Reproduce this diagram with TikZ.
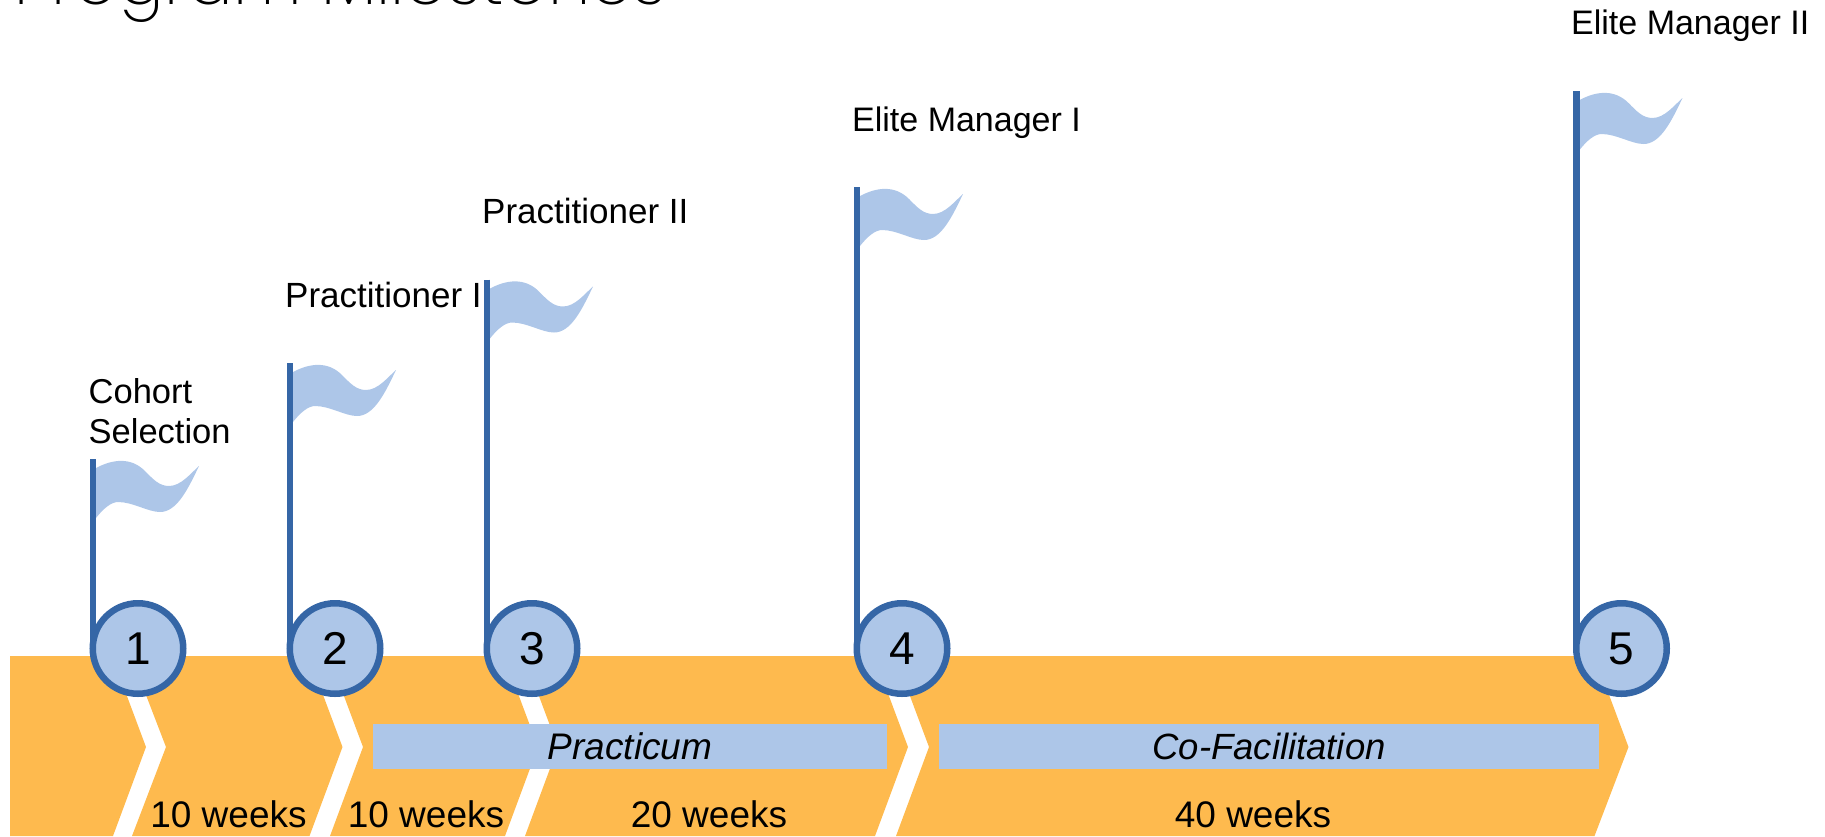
\documentclass[tikz,border=0pt]{standalone}
\usepackage{fontspec}
\setmainfont{Liberation Sans}
\newfontfamily\titlefont{Poppins ExtraLight}
\definecolor{ribbon}{HTML}{FEBA4E}
\definecolor{paleblue}{HTML}{ADC6E8}
\definecolor{darkblue}{HTML}{3566A6}
\tikzset{
  band/.style={fill=ribbon,draw=none},
  bar/.style={fill=paleblue,draw=none,inner sep=0pt,outer sep=0pt,minimum height=45pt,font=\fontsize{37}{40}\selectfont\itshape},
  stone/.style={circle,draw=darkblue,line width=6.5pt,fill=paleblue,minimum size=90.5pt,inner sep=0pt,outer sep=0pt,font=\fontsize{46}{50}\selectfont},
  pole/.style={draw=darkblue,line width=6.2pt},
  flag/.style={fill=paleblue,draw=none},
  label/.style={anchor=base west,inner sep=0pt,font=\fontsize{35}{40}\selectfont,align=left},
  elite/.style={label,font=\fontsize{34}{40}\selectfont},
  weeks/.style={anchor=base,inner sep=0pt,font=\fontsize{37}{40}\selectfont},
}
\newcommand{\flagat}[1]{%
  \fill[flag,shift={(#1)}] (3,9) .. controls (20,0) and (38,-2) .. (52,12)
    .. controls (60,20) and (66,27) .. (76,27)
    .. controls (88,27) and (98,14) .. (106,7)
    .. controls (95,30) and (84,53) .. (67,53)
    .. controls (55,53) and (40,43) .. (25,43)
    .. controls (18,43) and (10,50) .. (3,59) -- cycle;}
\begin{document}
\begin{tikzpicture}[x=1pt,y=-1pt]
\useasboundingbox (0,0) rectangle (1825,836);
% ribbon
\fill[band] (10,656) -- (112,656) -- (146,747) -- (113,836) -- (10,836) -- cycle;
\fill[band] (131,656) -- (308.5,656) -- (342.5,747) -- (309.5,836) -- (132,836) -- (166,747) -- cycle;
\fill[band] (329,656) -- (504,656) -- (538,747) -- (505,836) -- (330,836) -- (363,747) -- cycle;
\fill[band] (524,656) -- (874,656) -- (908,747) -- (875,836) -- (525,836) -- (558,747) -- cycle;
\fill[band] (895,656) -- (1594.5,656) -- (1628.5,747) -- (1594.5,836) -- (896,836) -- (929,747) -- cycle;
% bars
\node[bar,minimum width=514pt] (practicum) at (630,746.5) {Practicum};
\node[bar,minimum width=660pt,font=\fontsize{36.5}{40}\selectfont\itshape] (cofac) at (1269,746.5) {Co-Facilitation};
% week labels
\node[weeks] (w1) at (228.5,827) {10 weeks};
\node[weeks] (w2) at (426,827) {10 weeks};
\node[weeks] (w3) at (709,827) {20 weeks};
\node[weeks] (w4) at (1253,827) {40 weeks};
% milestones: the poles run from the flag tops down behind the circles
\coordinate (p1) at (93,459);
\coordinate (p2) at (290,363);
\coordinate (p3) at (487,279.5);
\coordinate (p4) at (857,187);
\coordinate (p5) at (1576.5,91);
\coordinate (m1) at (138,648.5);
\coordinate (m2) at (335,648.5);
\coordinate (m3) at (532,648.5);
\coordinate (m4) at (902,648.5);
\coordinate (m5) at (1621.5,648.5);
\flagat{p1}\flagat{p2}\flagat{p3}\flagat{p4}\flagat{p5}
\draw[pole] (p1) -- (p1 |- m1);
\draw[pole] (p2) -- (p2 |- m2);
\draw[pole] (p3) -- (p3 |- m3);
\draw[pole] (p4) -- (p4 |- m4);
\draw[pole] (p5) -- (p5 |- m5);
\node[stone] (c1) at (m1) {1};
\node[stone] (c2) at (m2) {2};
\node[stone] (c3) at (m3) {3};
\node[stone] (c4) at (m4) {4};
\node[stone] (c5) at (m5) {5};
% labels
\node[label,font=\fontsize{34.5}{40}\selectfont] (l1) at (88.5,443.5) {Cohort\\[0pt]Selection};
\node[label] (l2) at (285,307) {Practitioner I};
\node[label] (l3) at (482,223.5) {Practitioner II};
\node[elite] (l4) at (852,131.5) {Elite Manager I};
\node[elite] (l5) at (1571,34) {Elite Manager II};
% title
\node[anchor=base west,inner sep=0pt,font=\titlefont\fontsize{67.7}{70}\selectfont] (title) at (14,4.5) {Program Milestones};
\end{tikzpicture}
\end{document}
